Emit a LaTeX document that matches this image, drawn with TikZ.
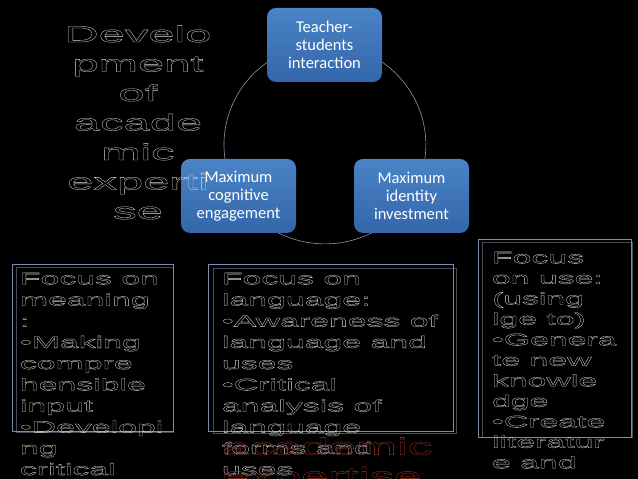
\documentclass[tikz,border=0pt]{standalone}
\usepackage{fontspec}
\setmainfont{Carlito}
\newfontfamily\widefont[FakeStretch=2.05]{Liberation Sans}
\usetikzlibrary{positioning,backgrounds}
\definecolor{Boxtop}{HTML}{4A84C6}
\definecolor{Boxbot}{HTML}{3366AA}
\definecolor{Ring}{HTML}{8A93A6}
\definecolor{Frame}{HTML}{7D8DB0}
\definecolor{Shade}{HTML}{454B5A}
\definecolor{Chalk}{HTML}{DCDCDC}
\definecolor{Brick}{HTML}{B03A2E}
\newcommand{\hollowon}{\special{pdf:literal direct 1 Tr 0.32 w}}
\newcommand{\hollowoff}{\special{pdf:literal direct 0 Tr}}
\tikzset{
  blob/.style={rounded corners=9pt,top color=Boxtop,bottom color=Boxbot,draw=none,minimum width=115pt,minimum height=74pt,inner sep=0pt,text=white,align=center,font=\fontsize{16.5}{18}\selectfont},
  ring/.style={draw=Ring,line width=.6pt},
  hollow/.style={inner sep=0pt,execute at begin node=\hollowon,execute at end node=\hollowoff},
  heading/.style={hollow,text=Chalk,align=center,font=\widefont\fontsize{23}{29.5}\selectfont},
  body/.style={hollow,text=Chalk,align=left,anchor=north west,font=\widefont\fontsize{16.5}{21.2}\selectfont},
  flare/.style={hollow,text=Brick,align=left,anchor=north west,font=\widefont\fontsize{24}{29.5}\selectfont},
  frame/.style={draw=Frame,line width=.6pt,inner sep=0pt},
  ghost/.style={draw=Shade,line width=.6pt,inner sep=0pt}
}
\begin{document}
\begin{tikzpicture}[x=1pt,y=1pt]
  \useasboundingbox (0,0) rectangle (638,479);
  \begin{scope}[on background layer]
    \fill[black] (0,0) rectangle (638,479);
  \end{scope}
  \clip (0,0) rectangle (638,479);
    \node[blob] (tsi) at (324.5,434) {Teacher-\\students\\interaction};
    \node[blob] (mce) at (238.5,283) {Maximum\\cognitive\\engagement};
    \node[blob] (mii) at (411.5,283) {Maximum\\identity\\investment};
  \begin{scope}[on background layer]
    \draw[ring] (tsi.center) to[bend right=60.75,looseness=1.15] (mce.center);
    \draw[ring] (mce.center) to[bend right=58.5,looseness=1.11] (mii.center);
    \draw[ring] (mii.center) to[bend right=60.75,looseness=1.15] (tsi.center);
  \end{scope}
    \node[ghost,minimum width=157pt,minimum height=165pt] (gmean) at (95,129.5) {};
    \node[frame,minimum width=161pt,minimum height=167pt] (fmean) at (92.5,131.5) {};
    \node[ghost,minimum width=243pt,minimum height=165pt] (glang) at (334.5,128.5) {};
    \node[frame,minimum width=245pt,minimum height=167pt] (flang) at (330.5,131.5) {};
    \node[ghost,minimum width=150pt,minimum height=195pt] (guse) at (557.5,139.5) {};
    \node[frame,minimum width=153pt,minimum height=198pt] (fuse) at (554.5,141) {};
    \node[body,below right=9pt and 8pt of fmean.north west] (tmean)
      {Focus on\\meaning\\:\\\textbullet Making\\compre\\hensible\\input\\\textbullet Developi\\ng\\critical};
    \node[body,below right=9pt and 14pt of flang.north west] (tlang)
      {Focus on\\language:\\\textbullet Awareness of\\language and\\uses\\\textbullet Critical\\analysis of\\language\\forms and\\uses};
    \node[body,font=\widefont\fontsize{16.5}{20.5}\selectfont,below right=13pt and 14pt of fuse.north west] (tuse)
      {Focus\\on use:\\(using\\lge to)\\\textbullet Genera\\te new\\knowle\\dge\\\textbullet Create\\literatur\\e and};
    \node[flare,below right=173.5pt and 14pt of flang.north west] (acad) {academic\\expertise};
    \node[heading,anchor=north] (title) at (138,453.8)
      {Develo\\pment\\of\\acade\\mic\\experti\\se};
\end{tikzpicture}
\end{document}
